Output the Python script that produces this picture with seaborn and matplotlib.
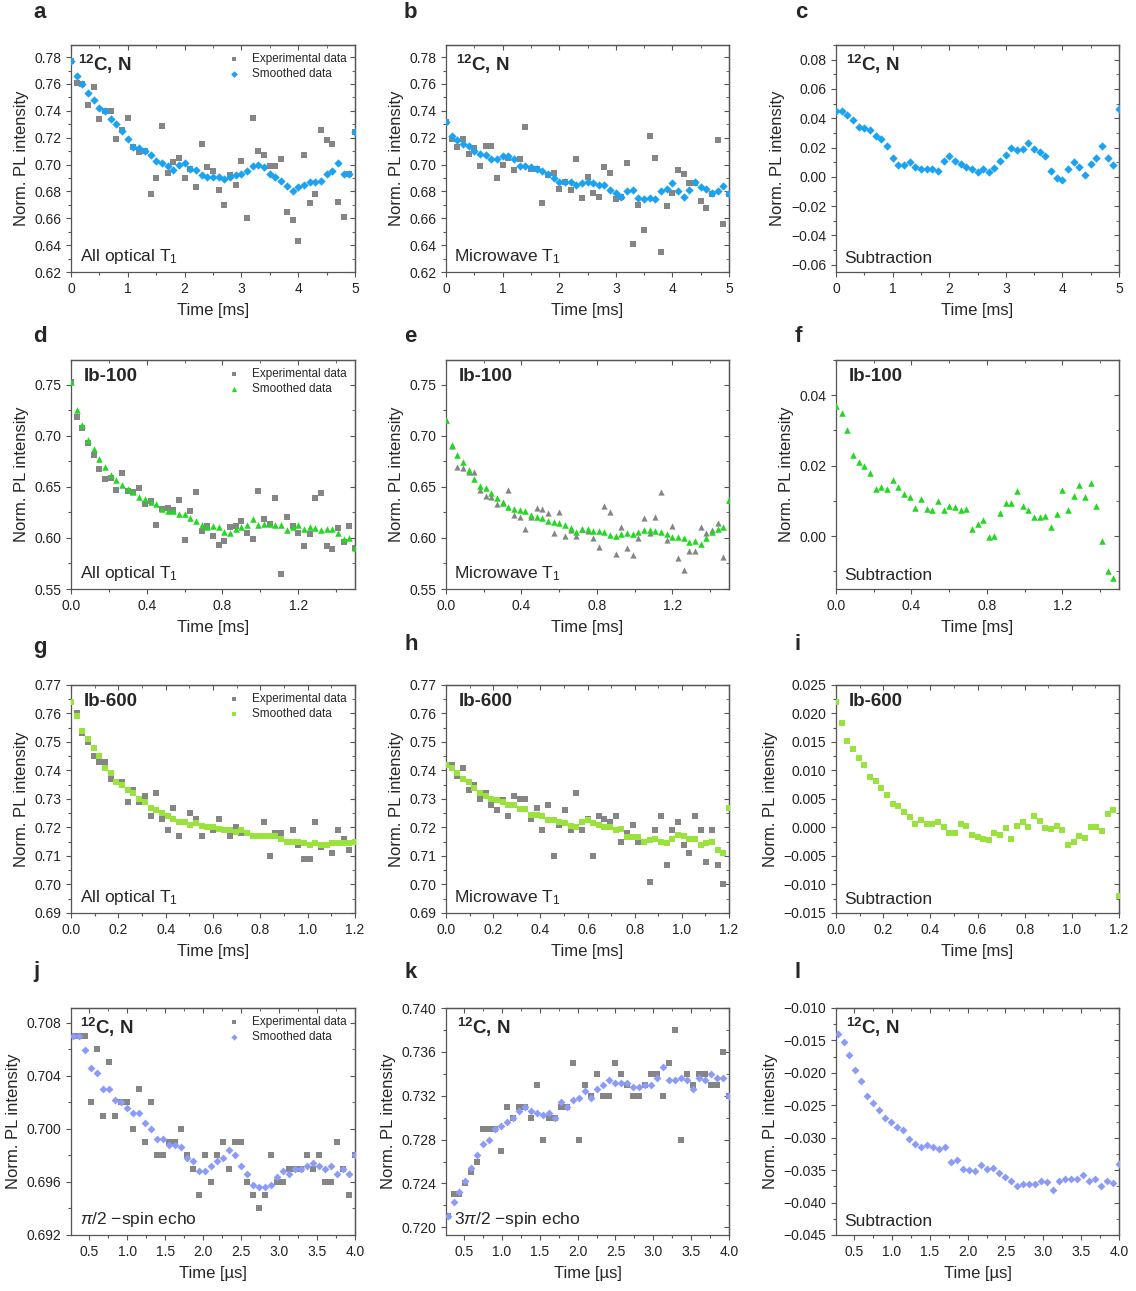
import numpy as np
import matplotlib
matplotlib.use("Agg")
import matplotlib.pyplot as plt
import seaborn as sns
from matplotlib.ticker import MultipleLocator, AutoMinorLocator, FuncFormatter

sns.set_style("ticks")
plt.rcParams['font.family'] = ['Liberation Sans', 'DejaVu Sans']
plt.rcParams['mathtext.fontset'] = 'custom'
plt.rcParams['mathtext.rm'] = 'Liberation Sans'
plt.rcParams['mathtext.it'] = 'Liberation Sans:italic'
plt.rcParams['mathtext.bf'] = 'Liberation Sans:bold'
plt.rcParams['axes.unicode_minus'] = True

# ---------------- data ----------------
t_abc = np.round(np.arange(51) * 0.1, 3)          # ms
t_def = np.round(np.arange(51) * 0.03, 3)         # ms
t_ghi = np.round(np.arange(51) * 0.024, 3)        # ms
t_jkl = np.linspace(0.28, 4.0, 48)                # us

a_exp = [0.777, 0.761, 0.760, 0.744, 0.758, 0.734, 0.740, 0.740, 0.719, 0.726,
         0.735, 0.713, 0.709, 0.710, 0.678, 0.690, 0.729, 0.694, 0.702, 0.705,
         0.690, 0.697, 0.683, 0.715, 0.698, 0.695, 0.681, 0.670, 0.692, 0.685,
         0.703, 0.660, 0.735, 0.710, 0.707, 0.699, 0.699, 0.704, 0.665, 0.659,
         0.643, 0.707, 0.671, 0.678, 0.726, 0.718, 0.715, 0.672, 0.661, 0.693,
         0.724]
a_smooth = [0.777, 0.766, 0.760, 0.753, 0.748, 0.742, 0.740, 0.734, 0.730, 0.725,
            0.719, 0.713, 0.712, 0.710, 0.707, 0.703, 0.701, 0.699, 0.696, 0.700,
            0.701, 0.697, 0.696, 0.692, 0.691, 0.691, 0.691, 0.689, 0.691, 0.692,
            0.693, 0.695, 0.699, 0.700, 0.698, 0.693, 0.691, 0.688, 0.684, 0.680,
            0.683, 0.685, 0.687, 0.687, 0.688, 0.693, 0.695, 0.701, 0.693, 0.693,
            0.724]
b_exp = [0.732, 0.719, 0.713, 0.719, 0.708, 0.712, 0.699, 0.714, 0.714, 0.690,
         0.700, 0.705, 0.696, 0.704, 0.728, 0.697, 0.697, 0.671, 0.692, 0.694,
         0.682, 0.687, 0.681, 0.704, 0.675, 0.691, 0.679, 0.676, 0.698, 0.694,
         0.674, 0.676, 0.701, 0.641, 0.670, 0.651, 0.721, 0.705, 0.635, 0.669,
         0.679, 0.696, 0.693, 0.686, 0.686, 0.673, 0.668, 0.678, 0.718, 0.656,
         0.678]
b_smooth = [0.732, 0.721, 0.718, 0.715, 0.714, 0.710, 0.708, 0.707, 0.704, 0.704,
            0.706, 0.706, 0.704, 0.699, 0.699, 0.698, 0.697, 0.695, 0.693, 0.690,
            0.687, 0.687, 0.687, 0.685, 0.686, 0.687, 0.686, 0.685, 0.685, 0.681,
            0.679, 0.676, 0.680, 0.681, 0.675, 0.674, 0.675, 0.674, 0.680, 0.682,
            0.686, 0.680, 0.676, 0.681, 0.687, 0.683, 0.682, 0.679, 0.680, 0.684,
            0.678]
c_sub = [0.045, 0.045, 0.042, 0.039, 0.034, 0.033, 0.032, 0.028, 0.026, 0.021,
         0.013, 0.008, 0.008, 0.010, 0.007, 0.005, 0.005, 0.005, 0.004, 0.011,
         0.014, 0.011, 0.009, 0.007, 0.005, 0.003, 0.005, 0.003, 0.006, 0.011,
         0.015, 0.020, 0.018, 0.019, 0.023, 0.019, 0.017, 0.014, 0.004, -0.001,
         -0.002, 0.005, 0.010, 0.007, 0.001, 0.009, 0.013, 0.021, 0.013, 0.008,
         0.046]

d_exp = [0.752, 0.718, 0.707, 0.693, 0.681, 0.667, 0.658, 0.659, 0.647, 0.663,
         0.646, 0.645, 0.649, 0.633, 0.636, 0.613, 0.628, 0.629, 0.627, 0.637,
         0.598, 0.626, 0.645, 0.607, 0.612, 0.602, 0.593, 0.597, 0.611, 0.612,
         0.617, 0.605, 0.599, 0.646, 0.618, 0.614, 0.639, 0.565, 0.620, 0.612,
         0.605, 0.592, 0.604, 0.639, 0.644, 0.592, 0.589, 0.610, 0.596, 0.612,
         0.590]
d_smooth = [0.752, 0.725, 0.710, 0.696, 0.687, 0.677, 0.669, 0.662, 0.657, 0.652,
            0.648, 0.645, 0.640, 0.638, 0.635, 0.633, 0.628, 0.626, 0.626, 0.623,
            0.623, 0.619, 0.617, 0.613, 0.611, 0.612, 0.611, 0.606, 0.605, 0.609,
            0.611, 0.613, 0.618, 0.613, 0.614, 0.614, 0.613, 0.613, 0.608, 0.611,
            0.613, 0.609, 0.611, 0.610, 0.608, 0.609, 0.609, 0.605, 0.599, 0.600,
            0.590]
e_exp = [0.715, 0.690, 0.669, 0.668, 0.664, 0.664, 0.647, 0.641, 0.640, 0.633,
         0.635, 0.647, 0.622, 0.620, 0.609, 0.620, 0.629, 0.628, 0.624, 0.605,
         0.625, 0.602, 0.608, 0.602, 0.609, 0.607, 0.600, 0.591, 0.631, 0.625,
         0.584, 0.611, 0.590, 0.583, 0.600, 0.619, 0.605, 0.620, 0.645, 0.598,
         0.612, 0.580, 0.569, 0.587, 0.587, 0.611, 0.605, 0.608, 0.615, 0.581,
         0.637]
e_smooth = [0.715, 0.691, 0.681, 0.674, 0.666, 0.658, 0.651, 0.649, 0.644, 0.639,
            0.634, 0.630, 0.628, 0.627, 0.626, 0.622, 0.620, 0.619, 0.617, 0.616,
            0.615, 0.613, 0.610, 0.606, 0.609, 0.609, 0.607, 0.607, 0.606, 0.603,
            0.602, 0.604, 0.605, 0.604, 0.606, 0.608, 0.608, 0.607, 0.606, 0.604,
            0.601, 0.601, 0.600, 0.596, 0.597, 0.594, 0.600, 0.606, 0.609, 0.611,
            0.637]
f_sub = [0.037, 0.035, 0.030, 0.023, 0.021, 0.020, 0.018, 0.0135, 0.014, 0.0133,
         0.016, 0.014, 0.012, 0.011, 0.008, 0.0105, 0.0077, 0.0073, 0.010, 0.0075,
         0.0086, 0.0082, 0.0073, 0.0077, 0.002, 0.0035, 0.0045, -0.0002, 0.0, 0.0067,
         0.0093, 0.0095, 0.0127, 0.0087, 0.0074, 0.0054, 0.0054, 0.0056, 0.0025, 0.0063,
         0.013, 0.0073, 0.0115, 0.0145, 0.011, 0.015, 0.0085, -0.0015, -0.010, -0.012]

g_exp = [0.764, 0.760, 0.753, 0.750, 0.745, 0.743, 0.743, 0.737, 0.736, 0.736,
         0.729, 0.733, 0.729, 0.731, 0.724, 0.732, 0.723, 0.719, 0.727, 0.717,
         0.722, 0.725, 0.723, 0.717, 0.720, 0.719, 0.723, 0.719, 0.717, 0.720,
         0.718, 0.718, 0.717, 0.717, 0.722, 0.710, 0.718, 0.718, 0.715, 0.719,
         0.714, 0.709, 0.709, 0.722, 0.713, 0.714, 0.711, 0.719, 0.716, 0.712,
         0.715]
g_smooth = [0.764, 0.759, 0.754, 0.751, 0.748, 0.745, 0.741, 0.739, 0.736, 0.735,
            0.733, 0.732, 0.730, 0.729, 0.727, 0.726, 0.725, 0.724, 0.723, 0.722,
            0.722, 0.721, 0.7215, 0.7205, 0.720, 0.720, 0.7195, 0.719, 0.719, 0.7185,
            0.719, 0.718, 0.717, 0.717, 0.717, 0.717, 0.717, 0.716, 0.715, 0.715,
            0.715, 0.7145, 0.714, 0.7145, 0.714, 0.714, 0.7145, 0.7145, 0.7145, 0.7145,
            0.715]
h_exp = [0.742, 0.742, 0.738, 0.741, 0.733, 0.735, 0.730, 0.732, 0.728, 0.726,
         0.7295, 0.724, 0.731, 0.730, 0.730, 0.723, 0.727, 0.719, 0.728, 0.710,
         0.721, 0.726, 0.719, 0.732, 0.719, 0.723, 0.710, 0.724, 0.723, 0.722,
         0.724, 0.715, 0.718, 0.721, 0.715, 0.715, 0.701, 0.719, 0.724, 0.707,
         0.719, 0.722, 0.714, 0.711, 0.724, 0.719, 0.708, 0.719, 0.707, 0.700,
         0.727]
h_smooth = [0.742, 0.741, 0.739, 0.737, 0.736, 0.734, 0.732, 0.731, 0.730, 0.7295,
            0.729, 0.728, 0.728, 0.7265, 0.7265, 0.7245, 0.7245, 0.724, 0.7225, 0.7225,
            0.722, 0.7215, 0.7205, 0.720, 0.722, 0.7225, 0.7215, 0.721, 0.720, 0.720,
            0.719, 0.7195, 0.7165, 0.7165, 0.7165, 0.715, 0.7155, 0.716, 0.715, 0.7145,
            0.716, 0.7175, 0.717, 0.716, 0.716, 0.714, 0.7145, 0.715, 0.712, 0.711,
            0.727]
i_sub = [0.022, 0.0183, 0.0151, 0.0138, 0.0122, 0.0109, 0.0089, 0.0082, 0.0070, 0.0057,
         0.0042, 0.0038, 0.0027, 0.0018, 0.0006, 0.0014, 0.0006, 0.0007, 0.0010, 0.0000,
         -0.0009, -0.0009, 0.0006, 0.0002, -0.0013, -0.0017, -0.0021, -0.0022, -0.0009, -0.0013,
         -0.0001, -0.0021, 0.0003, 0.0009, 0.0001, 0.0021, 0.0012, -0.0001, -0.0002, 0.0002,
         -0.0005, -0.0030, -0.0025, -0.0015, -0.0018, 0.0001, 0.0001, -0.0006, 0.0024, 0.0030,
         -0.0120]

j_exp = [0.707, 0.707, 0.707, 0.702, 0.706, 0.701, 0.705, 0.701, 0.702, 0.702,
         0.700, 0.703, 0.699, 0.702, 0.698, 0.698, 0.699, 0.699, 0.700, 0.698,
         0.697, 0.695, 0.698, 0.696, 0.698, 0.699, 0.697, 0.699, 0.699, 0.696,
         0.695, 0.694, 0.695, 0.698, 0.696, 0.696, 0.697, 0.697, 0.697, 0.698,
         0.697, 0.698, 0.696, 0.696, 0.699, 0.697, 0.695, 0.698]
j_smooth = [0.7070, 0.7070, 0.7059, 0.7046, 0.7042, 0.7030, 0.7030, 0.7022, 0.7020, 0.7016,
            0.7012, 0.7012, 0.7004, 0.7000, 0.6992, 0.6992, 0.6988, 0.6988, 0.6986, 0.6978,
            0.6976, 0.6968, 0.6968, 0.6972, 0.6976, 0.6978, 0.6984, 0.6980, 0.6972, 0.6966,
            0.6958, 0.6956, 0.6956, 0.6958, 0.6964, 0.6968, 0.6966, 0.6970, 0.6970, 0.6972,
            0.6974, 0.6972, 0.6970, 0.6972, 0.6966, 0.6970, 0.6966, 0.6980]
k_exp = [0.721, 0.723, 0.723, 0.724, 0.725, 0.726, 0.729, 0.729, 0.729, 0.727,
         0.731, 0.730, 0.731, 0.731, 0.730, 0.733, 0.728, 0.730, 0.730, 0.731,
         0.731, 0.735, 0.728, 0.733, 0.732, 0.734, 0.732, 0.732, 0.735, 0.734,
         0.733, 0.732, 0.732, 0.733, 0.734, 0.734, 0.732, 0.735, 0.738, 0.728,
         0.734, 0.733, 0.734, 0.734, 0.733, 0.733, 0.736, 0.732]
k_smooth = [0.7210, 0.7223, 0.7232, 0.7242, 0.7254, 0.7266, 0.7276, 0.7280, 0.7290, 0.7292,
            0.7296, 0.7300, 0.7306, 0.7310, 0.7306, 0.7304, 0.7302, 0.7304, 0.7300, 0.7314,
            0.7310, 0.7316, 0.7318, 0.7324, 0.7318, 0.7326, 0.7330, 0.7334, 0.7332, 0.7332,
            0.7332, 0.7328, 0.7328, 0.7330, 0.7330, 0.7336, 0.7346, 0.7334, 0.7334, 0.7336,
            0.7334, 0.7326, 0.7336, 0.7334, 0.7340, 0.7336, 0.7336, 0.7320]
l_sub = [-0.0140, -0.0153, -0.0173, -0.0196, -0.0212, -0.0236, -0.0246, -0.0258, -0.0269, -0.0275,
         -0.0284, -0.0288, -0.0302, -0.0310, -0.0314, -0.0312, -0.0314, -0.0317, -0.0314, -0.0337,
         -0.0334, -0.0348, -0.0350, -0.0352, -0.0342, -0.0348, -0.0346, -0.0354, -0.0360, -0.0367,
         -0.0374, -0.0372, -0.0372, -0.0372, -0.0367, -0.0368, -0.0380, -0.0366, -0.0364, -0.0364,
         -0.0364, -0.0357, -0.0366, -0.0363, -0.0374, -0.0366, -0.0370, -0.0341]

BLUE = '#1aa3f2'
GREEN = '#22d822'
LIME = '#9ae33c'
PERI = '#8c9cf6'
GRAY = '#858585'
SPINE = '#555555'

W, H = 1136, 1291
fig = plt.figure(figsize=(W / 100, H / 100), dpi=100)
rows = [(45, 272), (360, 589), (685, 913), (1008, 1235)]
cols = [(71, 355), (446, 729), (836, 1119)]


def add_ax(r, c):
    top, bot = rows[r]
    left, right = cols[c]
    return fig.add_axes([left / W, 1 - bot / H, (right - left) / W, (bot - top) / H])


def fmt(dec):
    def f(v, pos):
        if abs(v) < 1e-12:
            v = 0.0
        return f"{v:.{dec}f}".replace('-', '\u2212')
    return FuncFormatter(f)


def style(ax, xlim, xstep, xdec, ylim, ystep, ydec, xlabel):
    ax.set_xlim(xlim)
    ax.set_ylim(ylim)
    ax.xaxis.set_major_locator(MultipleLocator(xstep))
    ax.yaxis.set_major_locator(MultipleLocator(ystep))
    ax.xaxis.set_minor_locator(AutoMinorLocator(2))
    ax.yaxis.set_minor_locator(AutoMinorLocator(2))
    ax.xaxis.set_major_formatter(fmt(xdec))
    ax.yaxis.set_major_formatter(fmt(ydec))
    ax.tick_params(which='both', direction='out', labelsize=10, colors='#222222')
    ax.tick_params(which='major', length=3.5, width=0.8, color=SPINE)
    ax.tick_params(which='minor', length=2, width=0.8, color=SPINE)
    for sp in ax.spines.values():
        sp.set_visible(True)
        sp.set_color(SPINE)
        sp.set_linewidth(0.9)
    ax.set_xlabel(xlabel, fontsize=12, labelpad=5)
    ax.set_ylabel("Norm. PL intensity", fontsize=12, labelpad=4)
    # mirrored inward ticks on top and right
    top = ax.secondary_xaxis('top')
    top.xaxis.set_major_locator(MultipleLocator(xstep))
    top.xaxis.set_minor_locator(AutoMinorLocator(2))
    top.tick_params(which='both', direction='in', labeltop=False, color=SPINE)
    top.tick_params(which='major', length=3.5)
    top.tick_params(which='minor', length=2)
    right = ax.secondary_yaxis('right')
    right.yaxis.set_major_locator(MultipleLocator(ystep))
    right.yaxis.set_minor_locator(AutoMinorLocator(2))
    right.tick_params(which='both', direction='in', labelright=False, color=SPINE)
    right.tick_params(which='major', length=3.5)
    right.tick_params(which='minor', length=2)
    for sec in (top, right):
        for sp in sec.spines.values():
            sp.set_color(SPINE)
            sp.set_linewidth(0.9)


def draw(ax, t, smooth, color, mk, ms, exp=None, emk='s', ems=14, legend=False):
    if exp is not None:
        sns.scatterplot(x=t, y=exp, ax=ax, marker=emk, color=GRAY, s=ems,
                        linewidth=0, label='Experimental data', zorder=2)
    sns.scatterplot(x=t, y=smooth, ax=ax, marker=mk, color=color, s=ms,
                    linewidth=0, label='Smoothed data', zorder=3)
    if legend:
        ax.legend(loc='upper right', frameon=False, fontsize=8.5,
                  handletextpad=0.5, labelspacing=0.2, borderaxespad=0.3,
                  markerscale=0.8)
    elif ax.get_legend() is not None:
        ax.get_legend().remove()


def labels(ax, title, note, tx=0.035):
    ax.text(tx, 0.965, title, transform=ax.transAxes, fontsize=13.5,
            fontweight='bold', ha='left', va='top')
    ax.text(0.03, 0.025, note, transform=ax.transAxes, fontsize=12.5,
            ha='left', va='bottom')


C12 = r"$\mathbf{^{12}}$C, N"

# row 1
ax = add_ax(0, 0)
draw(ax, t_abc, a_smooth, BLUE, 'D', 18, exp=a_exp, legend=True)
style(ax, (0, 5), 1, 0, (0.62, 0.789), 0.02, 2, "Time [ms]")
labels(ax, C12, r"All optical T$_1$", tx=0.025)

ax = add_ax(0, 1)
draw(ax, t_abc, b_smooth, BLUE, 'D', 18, exp=b_exp)
style(ax, (0, 5), 1, 0, (0.62, 0.789), 0.02, 2, "Time [ms]")
labels(ax, C12, r"Microwave T$_1$")

ax = add_ax(0, 2)
draw(ax, t_abc, c_sub, BLUE, 'D', 18)
style(ax, (0, 5), 1, 0, (-0.065, 0.09), 0.02, 2, "Time [ms]")
labels(ax, C12, "Subtraction")

# row 2
ax = add_ax(1, 0)
draw(ax, t_def, d_smooth, GREEN, '^', 22, exp=d_exp, legend=True)
style(ax, (0, 1.5), 0.4, 1, (0.55, 0.774), 0.05, 2, "Time [ms]")
labels(ax, "Ib-100", r"All optical T$_1$", tx=0.045)

ax = add_ax(1, 1)
draw(ax, t_def, e_smooth, GREEN, '^', 22, exp=e_exp, emk='^', ems=20)
style(ax, (0, 1.5), 0.4, 1, (0.55, 0.774), 0.05, 2, "Time [ms]")
labels(ax, "Ib-100", r"Microwave T$_1$", tx=0.045)

ax = add_ax(1, 2)
draw(ax, t_def[:len(f_sub)], f_sub, GREEN, '^', 22)
style(ax, (0, 1.5), 0.4, 1, (-0.015, 0.05), 0.02, 2, "Time [ms]")
labels(ax, "Ib-100", "Subtraction", tx=0.045)

# row 3
ax = add_ax(2, 0)
draw(ax, t_ghi, g_smooth, LIME, 's', 14, exp=g_exp, legend=True)
style(ax, (0, 1.2), 0.2, 1, (0.69, 0.77), 0.01, 2, "Time [ms]")
labels(ax, "Ib-600", r"All optical T$_1$", tx=0.045)

ax = add_ax(2, 1)
draw(ax, t_ghi, h_smooth, LIME, 's', 14, exp=h_exp)
style(ax, (0, 1.2), 0.2, 1, (0.69, 0.77), 0.01, 2, "Time [ms]")
labels(ax, "Ib-600", r"Microwave T$_1$", tx=0.045)

ax = add_ax(2, 2)
draw(ax, t_ghi, i_sub, LIME, 's', 14)
style(ax, (0, 1.2), 0.2, 1, (-0.015, 0.025), 0.005, 3, "Time [ms]")
labels(ax, "Ib-600", "Subtraction", tx=0.045)

# row 4
ax = add_ax(3, 0)
draw(ax, t_jkl, j_smooth, PERI, 'D', 16, exp=j_exp, legend=True)
style(ax, (0.26, 4.0), 0.5, 1, (0.692, 0.7091), 0.004, 3, "Time [\u00b5s]")
labels(ax, C12, r"$\pi/2$ $-$spin echo", tx=0.03)

ax = add_ax(3, 1)
draw(ax, t_jkl, k_smooth, PERI, 'D', 16, exp=k_exp)
style(ax, (0.26, 4.0), 0.5, 1, (0.7193, 0.740), 0.004, 3, "Time [\u00b5s]")
labels(ax, C12, r"$3\pi/2$ $-$spin echo", tx=0.04)

ax = add_ax(3, 2)
draw(ax, t_jkl, l_sub, PERI, 'D', 16)
style(ax, (0.26, 4.0), 0.5, 1, (-0.045, -0.010), 0.005, 3, "Time [\u00b5s]")
labels(ax, C12, "Subtraction", tx=0.035)

# panel letters
letters = [('a', 33, 12), ('b', 404, 12), ('c', 795, 12),
           ('d', 33, 336), ('e', 404, 336), ('f', 795, 336),
           ('g', 33, 647), ('h', 404, 645), ('i', 795, 645),
           ('j', 33, 972), ('k', 404, 972), ('l', 795, 972)]
for s, x, y in letters:
    fig.text(x / W, 1 - y / H, s, fontsize=16, fontweight='bold',
             ha='left', va='center')

fig.savefig("out.png", dpi=100, facecolor='white')
